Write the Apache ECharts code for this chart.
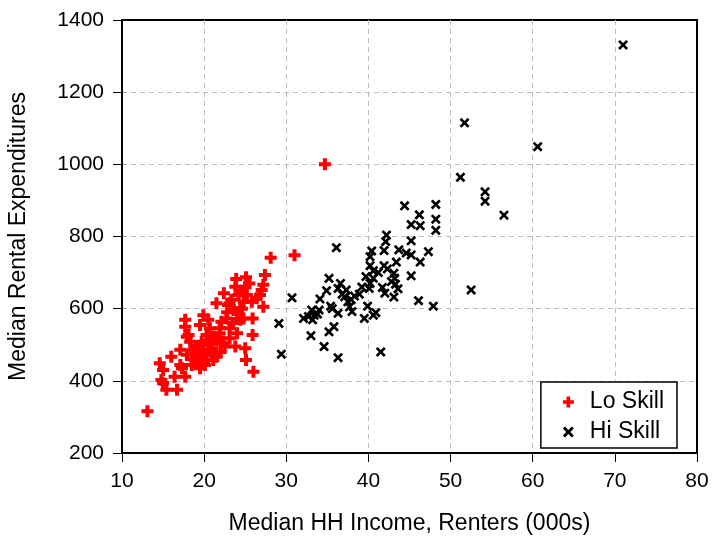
<!DOCTYPE html>
<html><head><meta charset="utf-8">
<script src="https://cdn.jsdelivr.net/npm/echarts@6/dist/echarts.min.js"></script>
<style>html,body{margin:0;padding:0;background:#fff}#c{width:714px;height:536px}</style>
</head><body><div id="c"></div>
<script>
const xTicks = [10,20,30,40,50,60,70,80];
const yTicks = [200,400,600,800,1000,1200,1400];
const loSkillIncome = [13.1,28.1,31.0,27.4,23.9,25.1,27.2,27.0,23.8,25.0,22.4,24.2,25.2,26.4,21.5,23.1,24.8,27.2,23.6,24.4,19.9,22.7,24.8,25.9,17.7,22.1,19.5,17.7,20.7,21.9,24.0,25.9,18.1,20.3,21.1,23.1,18.3,19.7,22.3,23.8,25.0,17.1,18.7,19.9,16.0,17.9,19.5,21.1,25.1,14.6,17.1,18.5,20.1,15.0,17.3,19.5,26.0,17.7,14.8,16.4,15.0,15.4,16.7,18.9,20.3,21.5,19.3,21.5,23.1,21.9,26.8,25.8,24.4,20.7,18.9,17.9,20.5,34.7,22.8,20.9,19.0,21.8,24.6,20.5,21.0,22.0,22.5,20.0,21.3,23.5,24.0,22.9,24.5,25.5,23.3,18.5,19.8];
const loSkillRent = [316,741,748,693,682,687,666,652,661,661,643,638,638,629,615,615,619,605,596,601,582,573,573,573,569,564,555,550,546,546,532,527,527,527,522,518,508,508,504,495,490,486,486,486,467,472,467,458,458,449,444,444,444,430,435,435,425,411,402,411,393,375,375,476,472,467,449,513,546,532,638,619,569,504,458,522,569,1000,590,480,495,520,600,510,490,480,495,455,470,560,590,610,650,670,625,460,500];
const hiSkillIncome = [71.0,51.7,60.6,51.2,54.2,54.2,56.5,52.5,44.4,48.2,46.2,48.2,45.2,46.3,48.2,42.2,42.1,45.2,36.1,41.9,43.7,40.4,47.3,45.2,40.2,44.6,46.3,43.4,40.2,41.9,42.3,40.6,43.1,43.2,45.2,39.7,40.6,35.2,42.8,40.2,36.6,40.1,41.7,43.6,43.3,36.3,37.3,34.9,42.0,38.9,38.3,37.1,43.1,34.1,30.7,46.1,37.5,35.4,37.7,39.9,47.9,33.1,34.0,38.0,36.3,40.9,32.1,33.2,33.4,39.5,40.6,32.7,35.8,35.2,29.1,33.0,34.6,36.3,41.5,29.4,36.8,37.9,35.6,33.8,39.2,41.2];
const hiSkillRent = [1331,1115,1049,964,924,898,859,652,885,889,860,848,833,830,817,804,786,788,769,761,763,760,758,749,744,754,729,729,719,719,710,705,698,684,691,689,684,684,675,670,670,656,659,655,668,656,652,650,643,640,635,633,632,627,630,622,619,607,605,607,607,596,596,592,587,589,573,569,582,573,582,578,550,536,559,525,495,464,480,474,640,625,600,585,660,700];

const lo = loSkillIncome.map((v,i)=>[v, loSkillRent[i]]);
const hi = hiSkillIncome.map((v,i)=>[v, hiSkillRent[i]]);
const plus = 'path://M4,0H8V4H12V8H8V12H4V8H0V4H4Z';
const cross = 'path://M0,1.5L1.5,0L4,2.5L6.5,0L8,1.5L5.5,4L8,6.5L6.5,8L4,5.5L1.5,8L0,6.5L2.5,4Z';
const font = 'Liberation Sans, Arial, sans-serif';

const chart = echarts.init(document.getElementById('c'), null, {renderer:'canvas'});
chart.setOption({
  animation:false,
  backgroundColor:'#fff',
  grid:{left:122,right:17,top:20,bottom:83,show:true,borderColor:'#000',borderWidth:2,
    backgroundColor:'transparent',outerBoundsMode:'none',containLabel:false},
  xAxis:{type:'value',min:xTicks[0],max:xTicks[xTicks.length-1],interval:10,
    name:'Median HH Income, Renters (000s)',nameLocation:'middle',nameGap:59,
    nameTextStyle:{fontFamily:font,fontSize:23,color:'#000'},
    axisLine:{show:true,lineStyle:{color:'#000',width:2}},
    axisTick:{show:true,length:9,lineStyle:{color:'#000',width:1}},
    axisLabel:{fontFamily:font,fontSize:21,color:'#000',margin:18,formatter:v=>String(v)},
    splitLine:{show:true,showMinLine:false,showMaxLine:false,lineStyle:{color:'#bbb',type:[5,4],width:1}}},
  yAxis:{type:'value',min:yTicks[0],max:yTicks[yTicks.length-1],interval:200,
    name:'Median Rental Expenditures',nameLocation:'middle',nameGap:92,
    nameTextStyle:{fontFamily:font,fontSize:23,color:'#000'},
    axisLine:{show:true,lineStyle:{color:'#000',width:2}},
    axisTick:{show:true,length:9,lineStyle:{color:'#000',width:1}},
    axisLabel:{fontFamily:font,fontSize:21,color:'#000',margin:18,formatter:v=>String(v)},
    splitLine:{show:true,showMinLine:false,showMaxLine:false,lineStyle:{color:'#bbb',type:[5,4],width:1}}},
  legend:{right:37,bottom:88,orient:'vertical',borderColor:'#000',borderWidth:1.5,
    backgroundColor:'#fff',padding:[8,13,4,22],itemGap:6,itemWidth:11,itemHeight:11,
    textStyle:{fontFamily:font,fontSize:23,lineHeight:24,color:'#000',padding:[0,0,0,11]},
    data:[{name:'Lo Skill',icon:plus},{name:'Hi Skill',icon:cross}]},
  series:[
    {name:'Lo Skill',type:'scatter',data:lo,symbol:plus,symbolSize:12,
      itemStyle:{color:'#ff0000',opacity:1},z:3},
    {name:'Hi Skill',type:'scatter',data:hi,symbol:cross,symbolSize:10,
      itemStyle:{color:'#000',opacity:1},z:2}
  ]
});
</script></body></html>
